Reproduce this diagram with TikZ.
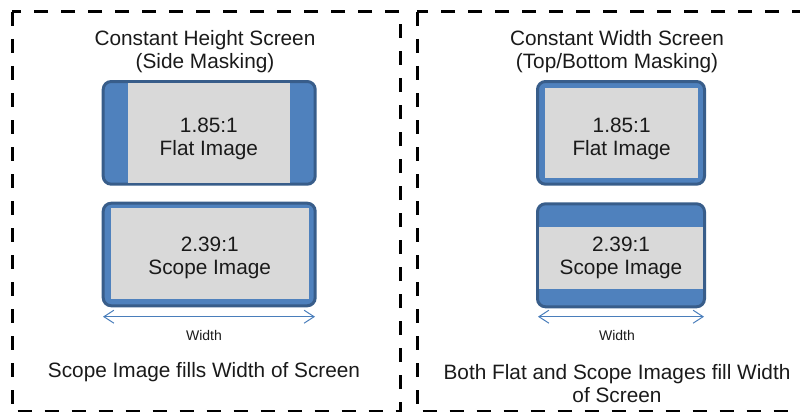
\documentclass[tikz,border=0pt]{standalone}
\usepackage{fontspec}
\setmainfont{Liberation Sans}
\usetikzlibrary{arrows.meta}
\definecolor{scrblue}{HTML}{4F81BD}
\definecolor{scrborder}{HTML}{385D8A}
\definecolor{imggray}{HTML}{D9D9D9}
\definecolor{arrblue}{HTML}{4A7EBB}
\definecolor{txt}{HTML}{1A1A1A}
\begin{document}
\begin{tikzpicture}[x=1pt,y=-1pt,
  panel/.style={draw=black,line width=3pt,dash pattern=on 14pt off 13pt},
  screen/.style={rectangle,rounded corners=8pt,fill=scrblue,draw=scrborder,line width=3pt,inner sep=0pt},
  img/.style={rectangle,fill=imggray,inner sep=0pt},
  title/.style={align=center,font=\fontsize{20.8}{23}\selectfont,text=txt,inner sep=0pt},
  dimlabel/.style={font=\fontsize{14}{16}\selectfont,text=txt,inner sep=0pt},
  dimarrow/.style={draw=arrblue,line width=1pt,{Straight Barb[length=10pt,width=13pt]}-{Straight Barb[length=10pt,width=13pt]}}
]
\useasboundingbox (0,0) rectangle (800,412);
\begin{scope}
\clip (0,0) rectangle (800,412);
\draw[panel] (12,12) rectangle (400,411.5);
\draw[panel] (417,12) rectangle (806,411.5);
\end{scope}

% Left panel
\node[title] (ltitle) at (205,51.5) {Constant Height Screen\\(Side Masking)};
\node[screen,minimum width=212pt,minimum height=102.7pt] (lf) at (209.2,132.85) {};
\node[img,minimum width=162.3pt,minimum height=99.7pt] (lfi) at (208.85,132.85) {};
\node[title] (lft) at ([yshift=-6pt]lfi.center) {1.85:1\\Flat Image};
\node[screen,minimum width=212pt,minimum height=102.6pt] (ls) at (209.2,254.5) {};
\node[img,minimum width=198pt,minimum height=91.3pt] (lsi) at (209.7,253.65) {};
\node[title] (lst) at ([yshift=-4.5pt]lsi.center) {2.39:1\\Scope Image};
\coordinate (la) at (103,316.7);
\coordinate (lb) at (315,316.7);
\draw[dimarrow] (la) -- (lb);
\node[dimlabel] (lw) at (204,335) {Width};
\node[title] (lbot) at (204,372) {Scope Image fills Width of Screen};

% Right panel
\node[title] (rtitle) at (617,51.5) {Constant Width Screen\\(Top/Bottom Masking)};
\node[screen,minimum width=167pt,minimum height=102.7pt] (rf) at (621,132.85) {};
\node[img,minimum width=153.3pt,minimum height=89.4pt] (rfi) at (621.65,133) {};
\node[title] (rft) at ([yshift=-5.5pt]rfi.center) {1.85:1\\Flat Image};
\node[screen,minimum width=167pt,minimum height=103pt] (rs) at (621,255.3) {};
\node[img,minimum width=164pt,minimum height=62pt] (rsi) at (621,257.7) {};
\node[title] (rst) at ([yshift=-0.5pt]rsi.center) {2.39:1\\Scope Image};
\coordinate (ra) at (538,316.7);
\coordinate (rb) at (704,316.7);
\draw[dimarrow] (ra) -- (rb);
\node[dimlabel] (rw) at (617,335) {Width};
\node[title] (rbot) at (617,383.5) {Both Flat and Scope Images fill Width\\of Screen};
\end{tikzpicture}
\end{document}
